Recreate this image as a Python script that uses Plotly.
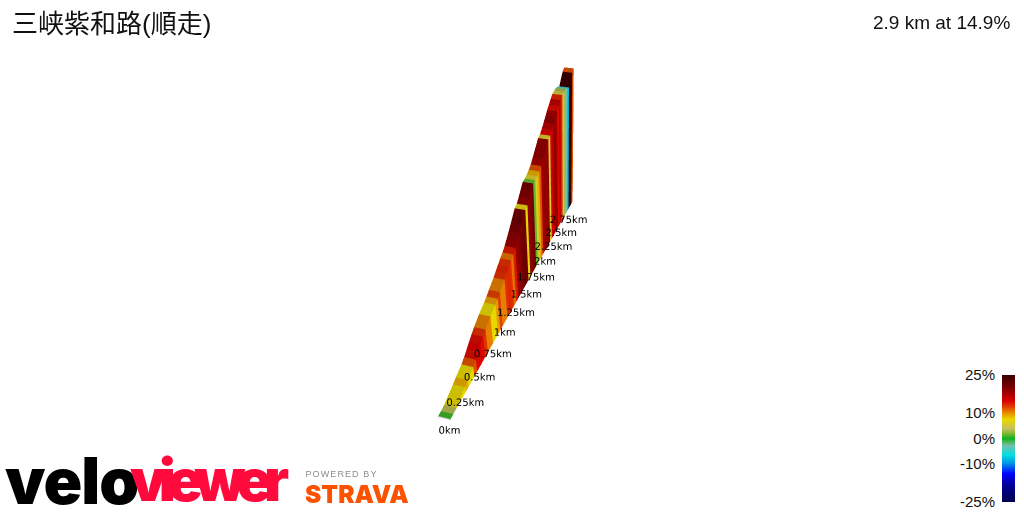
import numpy as np
import plotly.graph_objects as go

title = "三峡紫和路(順走)"
summary = "2.9 km at 14.9%"
segment_km = 0.05
gradients = [0.8,3.5,7.5,7.5,7.5,9,7.5,7.5,12,14.5,15,14.5,13,10.5,10.5,7.5,7.5,9.5,12.5,10.5,
             10.5,13,13.5,13,11,14,18.5,19.5,20.5,21.5,21,7,19,20,21,1.5,6,9,12,18,
             19,19,19,6,15,17,19,18,14.5,16.5,13.5,5,3,-3,-8,25,25,12]
km_labels = [0,0.25,0.5,0.75,1,1.25,1.5,1.75,2,2.25,2.5,2.75]
km_text = ["0km","0.25km","0.5km","0.75km","1km","1.25km","1.5km","1.75km","2km","2.25km","2.5km","2.75km"]
scale_stops = [-25,-18,-14,-10,-6.5,-3,-1.5,0,2,4,7.5,10,13,15,20,25]
scale_colors = ["#000050","#0000a0","#0000ff","#0090e8","#00e0e0","#70c0b0","#50b860","#10b020","#80b830",
                "#c8c060","#e8d800","#e89000","#e03000","#d80000","#800000","#3a0000"]
scale_ticks = [-25,-10,0,10,25]

def hex2rgb(h):
    return np.array([int(h[i:i+2],16) for i in (1,3,5)],float)
rgb = np.array([hex2rgb(c) for c in scale_colors])
def colour(g, f=1.0):
    v=[np.interp(g,scale_stops,rgb[:,i])*f for i in range(3)]
    return "rgb(%d,%d,%d)"%tuple(v)

g = np.array(gradients,float)
d = np.arange(len(g)+1)*segment_km
elev = np.concatenate([[0],np.cumsum(g*segment_km*10)])
X,Y,Z,I,J,K,FC=[],[],[],[],[],[],[]
def quad(pts,c):
    n=len(X)
    for p in pts:
        X.append(p[0]);Y.append(p[1]);Z.append(p[2])
    I.extend([n,n]);J.extend([n+1,n+2]);K.extend([n+2,n+3]);FC.extend([c,c])
for i in range(len(g)):
    a,b=d[i],d[i+1];za,zb=elev[i],elev[i+1]
    quad([(a,-.5,0),(b,-.5,0),(b,-.5,zb),(a,-.5,za)],colour(g[i]))
    quad([(a,-.5,za),(b,-.5,zb),(b,.5,zb),(a,.5,za)],colour(g[i],.88))
quad([(0,-.5,0),(0,.5,0),(0,.5,elev[0]+3),(0,-.5,elev[0]+3)],"#c8c8c8")

zmax=float(elev.max())
Z_SPAN=1.382; W=.09; k=.345
cam=np.array([-2.318,-1.495,3.296]); fwd=np.array([.771,.233,-.592])
look=cam+4*fwd
xr=[-.6,2.9]; yr=[-4,.5]; zr=[0,zmax]
lo_w=np.array([xr[0],(yr[0]+.5)*W,0]); hi_w=np.array([xr[1],(yr[1]+.5)*W,Z_SPAN])
bc=(lo_w+hi_w)/2; asp=(hi_w-lo_w)*k
eye=(cam-bc)*k; cen=(look-bc)*k

fig=go.Figure()
fig.add_trace(go.Mesh3d(x=X,y=Y,z=Z,i=I,j=J,k=K,facecolor=FC,flatshading=True,
    lighting=dict(ambient=1,diffuse=0,specular=0,fresnel=0,roughness=1),hoverinfo="skip",showscale=False))
lab=np.array(km_labels,float); pull=.15; lift=.035
lx=lab+pull*(cam[0]-lab)
ly=(pull*cam[1])/W-.5
lz=(pull*cam[2]+lift)*zmax/Z_SPAN
fig.add_trace(go.Scatter3d(x=lx,y=[ly]*len(lab),z=[lz]*len(lab),mode="text",text=km_text,
    textposition="bottom center",textfont=dict(family="DejaVu Sans",size=10,color="#000"),hoverinfo="skip"))
ax=dict(visible=False,showgrid=False,zeroline=False,showspikes=False)
fig.update_layout(width=1024,height=512,margin=dict(l=0,r=0,t=0,b=0,autoexpand=False),paper_bgcolor="white",showlegend=False,
  scene=dict(domain=dict(x=[106/1024,1],y=[0,1]),aspectmode="manual",
    aspectratio=dict(x=asp[0],y=asp[1],z=asp[2]),
    xaxis=dict(ax,range=xr),yaxis=dict(ax,range=yr),zaxis=dict(ax,range=zr),
    camera=dict(eye=dict(x=eye[0],y=eye[1],z=eye[2]),center=dict(x=cen[0],y=cen[1],z=cen[2]),up=dict(x=0,y=0,z=1),
                projection=dict(type="perspective"))),
  xaxis=dict(domain=[1002/1024,1015/1024],visible=False,fixedrange=True),
  yaxis=dict(domain=[10/512,137/512],range=[-25,25],side="left",anchor="x",tickvals=scale_ticks,
             ticktext=["%d%%"%v for v in scale_ticks],showgrid=False,zeroline=False,showline=False,
             ticks="outside",ticklen=3,tickcolor="white",tickfont=dict(family="Liberation Sans",size=15,color="#111"),fixedrange=True))
yy=np.linspace(-25,25,127)
lo,hi=min(scale_stops),max(scale_stops)
fig.add_trace(go.Heatmap(x=[0],y=yy,z=[[v] for v in yy],zmin=lo,zmax=hi,showscale=False,hoverinfo="skip",
    colorscale=[[(s-lo)/(hi-lo),c] for s,c in zip(scale_stops,scale_colors)],xaxis="x",yaxis="y"))
def note(t,x,y,size,color,anchor="left",family="Liberation Sans",weight=None):
    fig.add_annotation(text=t,xref="paper",yref="paper",x=x/1024,y=1-y/512,xanchor=anchor,yanchor="middle",
        showarrow=False,font=dict(family=family,size=size,color=color,weight=weight),borderpad=0)
note(title,11,24,26,"#111",family="Liberation Sans, Noto Sans CJK JP")
note(summary,1011,22,19,"#111","right")
note("velo",71,480,64,"#000","center",family="Inter",weight=900)
note("viewer",205,480,58,"#ff0a3c","center",family="Inter",weight=900)
note("POWERED BY",341,474,9,"#8c8c8c","center")
note("STRAVA",357,494,24.5,"#fc5200","center",family="Inter",weight=900)
spacing_js = """
document.body.style.margin='0';
const sp={'viewer':'-8px','velo':'-1px','POWERED BY':'1.1px'};
document.querySelectorAll('.annotation-text').forEach(t=>{const s=sp[t.textContent]; if(s) t.style.letterSpacing=s;});
"""
fig.write_html("out.html",config=dict(displayModeBar=False),post_script=spacing_js)
